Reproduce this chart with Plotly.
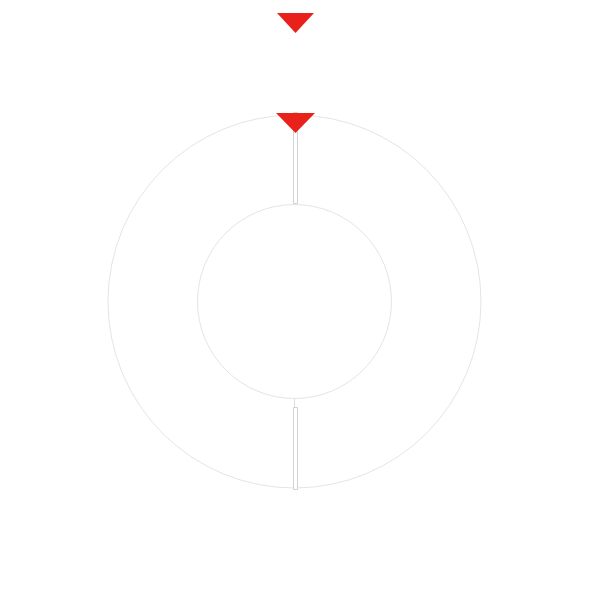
import plotly.graph_objects as go

# Data
slice_labels = ["A", "B"]
slice_values = [50, 50]
slice_colors = ["#ffffff", "#ffffff"]

# Separator bars (page pixel positions, y downward): x0, x1, y0, y1
separator_x0 = [293, 293]
separator_x1 = [297, 297]
separator_y0 = [112, 407]
separator_y1 = [203, 489]

# Pointer triangles (page pixel positions, y downward)
pointer1_x = [277, 314, 295.5]
pointer1_y = [13, 13, 33]
pointer2_x = [276, 315, 295.5]
pointer2_y = [113, 113, 133]
pointer_color = "#e8221b"
outline_color = "#d2d2d2"

OFF = 8  # default page body margin
W = H = 575
cx, cy, r = 294.5 - OFF, 301.5 - OFF, 186.5
half = r

fig = go.Figure()
fig.add_trace(go.Pie(
    labels=slice_labels,
    values=slice_values,
    hole=0.52,
    sort=False,
    marker=dict(colors=slice_colors, line=dict(color=outline_color, width=0.6)),
    textinfo="none",
    hoverinfo="none",
    showlegend=False,
    domain=dict(x=[(cx - half) / W, (cx + half) / W],
                y=[(H - cy - half) / H, (H - cy + half) / H]),
))

shapes = []
for x0, x1, y0, y1 in zip(separator_x0, separator_x1, separator_y0, separator_y1):
    shapes.append(dict(type="rect", xref="x", yref="y",
                       x0=x0 - OFF + 0.5, x1=x1 - OFF + 0.5,
                       y0=y0 - OFF + 0.5, y1=y1 - OFF + 0.5,
                       fillcolor="white", line=dict(color=outline_color, width=1),
                       layer="above"))
for px, py in ((pointer1_x, pointer1_y), (pointer2_x, pointer2_y)):
    pts = [(x - OFF, y - OFF) for x, y in zip(px, py)]
    path = "M " + " L ".join(f"{x},{y}" for x, y in pts) + " Z"
    shapes.append(dict(type="path", path=path, xref="x", yref="y",
                       fillcolor=pointer_color, line=dict(width=0),
                       layer="above"))

fig.update_layout(
    width=W, height=H,
    margin=dict(l=0, r=0, t=0, b=0),
    paper_bgcolor="white", plot_bgcolor="rgba(0,0,0,0)",
    xaxis=dict(range=[0, W], visible=False, fixedrange=True),
    yaxis=dict(range=[H, 0], visible=False, fixedrange=True),
    shapes=shapes,
)
fig.write_html("out.html")
